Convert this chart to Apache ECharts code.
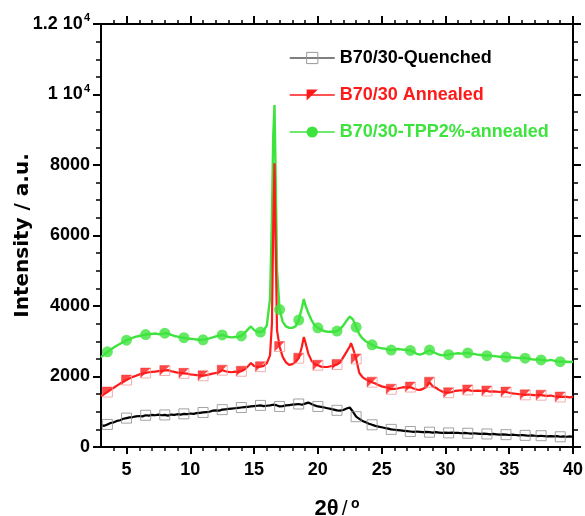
<!DOCTYPE html>
<html lang="en">
<head>
<meta charset="UTF-8">
<title>XRD B70/30</title>
<script src="https://cdn.jsdelivr.net/npm/echarts@6/dist/echarts.min.js"></script>
<style>
    html, body, #chart {
        width: 100%;
        height: 100%;
        margin: 0;
        background: #fff;
    }
</style>
</head>
<body>
<div id="chart"></div>
<script>
// 2theta (deg), finer steps around the peaks
var angles = [
    3, 3.25, 3.5, 3.75, 4, 4.25, 4.5, 4.75, 5, 5.25, 5.5, 5.75,
    6, 6.25, 6.5, 6.75, 7, 7.25, 7.5, 7.75, 8, 8.25, 8.5, 8.75,
    9, 9.25, 9.5, 9.75, 10, 10.25, 10.5, 10.75, 11, 11.25, 11.5, 11.75,
    12, 12.25, 12.5, 12.75, 13, 13.25, 13.5, 13.75, 14, 14.25, 14.5, 14.75,
    15, 15.25, 15.5, 15.75, 16, 16.25, 16.4, 16.5, 16.6, 16.7, 16.8,
    17, 17.25, 17.5, 17.75, 18, 18.25, 18.5, 18.75, 18.9,
    19, 19.25, 19.5, 19.75, 20, 20.25, 20.5, 20.75, 21, 21.25, 21.5, 21.75,
    22, 22.25, 22.5, 22.6, 22.75,
    23, 23.25, 23.5, 23.75, 24, 24.25, 24.5, 24.75, 25, 25.25, 25.5, 25.75,
    26, 26.25, 26.5, 26.75, 27, 27.25, 27.5, 27.75, 28, 28.25, 28.5, 28.75,
    29, 29.25, 29.5, 29.75, 30, 30.25, 30.5, 30.75, 31, 31.25, 31.5, 31.75,
    32, 32.25, 32.5, 32.75, 33, 33.25, 33.5, 33.75, 34, 34.25, 34.5, 34.75,
    35, 35.25, 35.5, 35.75, 36, 36.25, 36.5, 36.75, 37, 37.25, 37.5, 37.75,
    38, 38.25, 38.5, 38.75, 39, 39.25, 39.5, 39.75, 40
];

var quenched = [
    620, 600, 640, 680, 700, 740, 760, 800, 820, 840, 850, 870,
    880, 870, 900, 890, 910, 900, 920, 900, 910, 890, 920, 910,
    930, 920, 940, 930, 950, 940, 960, 970, 980, 990, 1000, 1030,
    1040, 1030, 1060, 1070, 1080, 1090, 1100, 1110, 1120, 1130, 1140, 1150,
    1160, 1170, 1180, 1160, 1170, 1180, 1170, 1200, 1220, 1190, 1170,
    1150, 1160, 1180, 1190, 1200, 1210, 1220, 1200, 1210,
    1230, 1260, 1220, 1180, 1150, 1140, 1120, 1100, 1080, 1060, 1040, 1030,
    1050, 1090, 1120, 1090, 1000,
    860, 800, 740, 700, 660, 630, 600, 580, 560, 540, 520, 500,
    490, 480, 470, 460, 450, 440, 430, 440, 430, 420, 430, 420,
    410, 420, 410, 400, 410, 400, 410, 400, 400, 390, 400, 390,
    380, 390, 380, 370, 380, 370, 360, 370, 360, 350, 360, 350,
    340, 350, 340, 330, 340, 330, 320, 330, 320, 310, 320, 310,
    300, 310, 300, 310, 290, 300, 290, 300, 290
];

var annealed = [
    1450, 1500, 1560, 1620, 1680, 1740, 1800, 1850, 1900, 1950, 1990, 2020,
    2060, 2080, 2100, 2120, 2130, 2140, 2150, 2160, 2170, 2180, 2150, 2130,
    2110, 2100, 2090, 2080, 2060, 2050, 2040, 2030, 2020, 2040, 2060, 2080,
    2100, 2120, 2180, 2150, 2130, 2120, 2140, 2130, 2150, 2200, 2280, 2380,
    2300, 2270, 2280, 2300, 2380, 2600, 3500, 6200, 8050, 5500, 3300,
    2850, 2550, 2400, 2330, 2350, 2410, 2520, 2850, 3120,
    3000, 2650, 2450, 2350, 2320, 2280, 2270, 2270, 2290, 2310, 2340, 2400,
    2550, 2700, 2850, 2950, 2800,
    2500, 2100, 1980, 1920, 1870, 1840, 1800, 1760, 1720, 1700, 1680, 1640,
    1650, 1660, 1680, 1700, 1690, 1700, 1660, 1630, 1620, 1650, 1700, 1840,
    1720, 1680, 1620, 1570, 1550, 1540, 1560, 1590, 1600, 1610, 1600, 1620,
    1600, 1590, 1600, 1590, 1600, 1590, 1570, 1580, 1570, 1560, 1570, 1560,
    1540, 1520, 1510, 1500, 1490, 1480, 1490, 1480, 1470, 1480, 1470, 1460,
    1450, 1460, 1440, 1430, 1420, 1430, 1420, 1410, 1420
];

var tppAnnealed = [
    2550, 2620, 2700, 2760, 2820, 2880, 2930, 2980, 3030, 3060, 3100, 3130,
    3150, 3170, 3190, 3200, 3210, 3220, 3200, 3210, 3230, 3220, 3180, 3150,
    3130, 3110, 3100, 3080, 3070, 3060, 3050, 3040, 3040, 3060, 3080, 3110,
    3140, 3160, 3180, 3150, 3120, 3110, 3120, 3130, 3150, 3230, 3330, 3420,
    3320, 3270, 3260, 3300, 3450, 4200, 6500, 8800, 9700, 7500, 5000,
    3900, 3550, 3420, 3380, 3380, 3420, 3600, 3950, 4200,
    4050, 3800, 3600, 3450, 3380, 3330, 3290, 3270, 3270, 3270, 3290, 3350,
    3450, 3580, 3700, 3740, 3620,
    3400, 3200, 3080, 3000, 2950, 2900, 2850, 2820, 2800, 2790, 2770, 2750,
    2760, 2780, 2770, 2760, 2750, 2740, 2700, 2640, 2620, 2650, 2700, 2750,
    2700, 2660, 2620, 2600, 2610, 2620, 2640, 2650, 2660, 2650, 2660, 2670,
    2650, 2640, 2620, 2610, 2600, 2590, 2600, 2580, 2570, 2560, 2560, 2550,
    2550, 2540, 2530, 2520, 2530, 2520, 2510, 2490, 2480, 2490, 2470, 2460,
    2450, 2470, 2450, 2430, 2420, 2430, 2420, 2410, 2420
];

// where the plot puts a symbol on each curve
var markerAngles = [
    3.5, 5, 6.5, 8, 9.5, 11, 12.5, 14, 15.5, 17, 18.5, 20, 21.5,
    23, 24.25, 25.75, 27.25, 28.75, 30.25, 31.75, 33.25, 34.75, 36.25, 37.5, 39
];

var names = ['B70/30-Quenched', 'B70/30 Annealed', 'B70/30-TPP2%-annealed'];
var xMajorTicks = [5, 10, 15, 20, 25, 30, 35, 40];

var BLACK = '#000000', RED = '#ff1a1a', GREEN = '#3ee43e';
var FONT = '"Liberation Sans", Arial, sans-serif';

function pairs(vals) {
    return angles.map(function (a, i) { return [a, vals[i]]; });
}
function markers(vals) {
    return markerAngles.map(function (a) { return [a, vals[angles.indexOf(a)]]; });
}

var xMinorTicks = [];
for (var t = 4; t < 40; t++) {
    if (t % 5 !== 0) xMinorTicks.push(t);
}

var chart = echarts.init(document.getElementById('chart'));

var axisLine = { show: true, lineStyle: { color: '#000', width: 2 } };
var labelFont = { fontSize: 18, fontWeight: 'bold', fontFamily: FONT, color: '#000' };

function xAxisDef(pos, ticks, len, withLabels) {
    var ax = {
        type: 'value', position: pos, min: 3, max: 40, gridIndex: 0,
        axisLine: axisLine,
        splitLine: { show: false },
        axisTick: { show: true, length: len, customValues: ticks, lineStyle: { color: '#000', width: len > 5 ? 2 : 1.5 } },
        axisLabel: { show: false }
    };
    if (withLabels) {
        ax.axisLabel = Object.assign({ show: true, margin: 14, customValues: xMajorTicks }, labelFont);
        ax.name = '{b|2θ} {r|/} {s|o}';
        ax.nameLocation = 'middle';
        ax.nameGap = 50;
        ax.nameMoveOverlap = false;
        ax.nameTextStyle = {
            rich: {
                b: { fontSize: 22, fontWeight: 'bold', fontFamily: FONT, color: '#000' },
                r: { fontSize: 21, fontFamily: FONT, color: '#000' },
                s: { fontSize: 14, fontWeight: 'bold', fontFamily: FONT, color: '#000', verticalAlign: 'top', padding: [0, 0, 10, 0] }
            }
        };
    }
    return ax;
}

function yAxisDef(pos, withLabels) {
    var ax = {
        type: 'value', position: pos, min: 0, max: 12000, interval: 2000,
        axisLine: axisLine,
        splitLine: { show: false },
        axisTick: { show: true, length: 8, lineStyle: { color: '#000', width: 2 } },
        minorTick: { show: true, splitNumber: 4, length: 5, lineStyle: { color: '#000', width: 1.5 } },
        axisLabel: { show: false }
    };
    if (withLabels) {
        ax.axisLabel = Object.assign({
            show: true, margin: 11,
            formatter: function (v) {
                if (v >= 10000) return '{m|' + (v / 10000) + ' 10}{s|4}';
                return '{m|' + v + '}';
            },
            rich: {
                m: { fontSize: 18, fontWeight: 'bold', fontFamily: FONT, color: '#000' },
                s: { fontSize: 11, fontWeight: 'bold', fontFamily: FONT, color: '#000', padding: [0, 0, 12, 1] }
            }
        }, labelFont);
        ax.name = 'Intensity / a.u.';
        ax.nameLocation = 'middle';
        ax.nameGap = 68;
        ax.nameMoveOverlap = false;
        ax.nameTextStyle = { fontSize: 20, fontWeight: 'bold', fontFamily: '"DejaVu Sans", sans-serif', color: '#000' };
    }
    return ax;
}

chart.setOption({
    animation: false,
    backgroundColor: '#fff',
    grid: { left: 101, right: 12, top: 24, bottom: 69, containLabel: false, outerBoundsMode: 'none' },
    legend: {
        orient: 'vertical', left: 289, top: 49, padding: 0,
        itemWidth: 45, itemHeight: 14, itemGap: 19,
        textStyle: { fontSize: 18, fontWeight: 'bold', fontFamily: FONT },
        data: [
            { name: names[0], textStyle: { color: BLACK },
              itemStyle: { color: 'rgba(255,255,255,0)', borderColor: '#999', borderWidth: 1 },
              lineStyle: { color: '#555', width: 1.5 } },
            { name: names[1], textStyle: { color: RED },
              itemStyle: { color: RED, borderWidth: 0 },
              lineStyle: { color: RED, width: 1.5 } },
            { name: names[2], textStyle: { color: GREEN },
              itemStyle: { color: GREEN, borderWidth: 0 },
              lineStyle: { color: GREEN, width: 1.5 } }
        ]
    },
    xAxis: [
        xAxisDef('bottom', xMajorTicks, 7, true),
        xAxisDef('bottom', xMinorTicks, 4, false),
        xAxisDef('top', xMajorTicks, 8, false),
        xAxisDef('top', xMinorTicks, 4, false)
    ],
    yAxis: [yAxisDef('left', true), yAxisDef('right', false)],
    series: [
        {
            name: names[0], type: 'line', data: pairs(quenched), z: 3,
            symbol: 'rect', showSymbol: false,
            lineStyle: { color: BLACK, width: 2.2 }, itemStyle: { color: BLACK }
        },
        {
            name: names[2], type: 'line', data: pairs(tppAnnealed), z: 3,
            symbol: 'circle', showSymbol: false,
            lineStyle: { color: GREEN, width: 2.4 }, itemStyle: { color: GREEN }
        },
        {
            name: names[1], type: 'line', data: pairs(annealed), z: 4,
            symbol: 'path://M0,0L10,0L0,10Z', showSymbol: false,
            lineStyle: { color: RED, width: 2.2 }, itemStyle: { color: RED }
        },
        {
            type: 'scatter', data: markers(quenched), z: 5, silent: true,
            symbol: 'rect', symbolSize: 10,
            itemStyle: { color: 'rgba(255,255,255,0)', borderColor: '#8c8c8c', borderWidth: 1 }
        },
        {
            type: 'scatter', data: markers(annealed), z: 5, silent: true,
            symbol: 'rect', symbolSize: 10,
            itemStyle: { color: 'rgba(255,255,255,0)', borderColor: '#f19a9a', borderWidth: 1 }
        },
        {
            type: 'scatter', data: markers(annealed), z: 6, silent: true,
            symbol: 'path://M0,0L10,0L0,10Z', symbolSize: 10,
            itemStyle: { color: RED }
        },
        {
            type: 'scatter', data: markers(tppAnnealed), z: 5, silent: true,
            symbol: 'circle', symbolSize: 11,
            itemStyle: { color: GREEN }
        }
    ]
});

window.onresize = chart.resize;
</script>
</body>
</html>
